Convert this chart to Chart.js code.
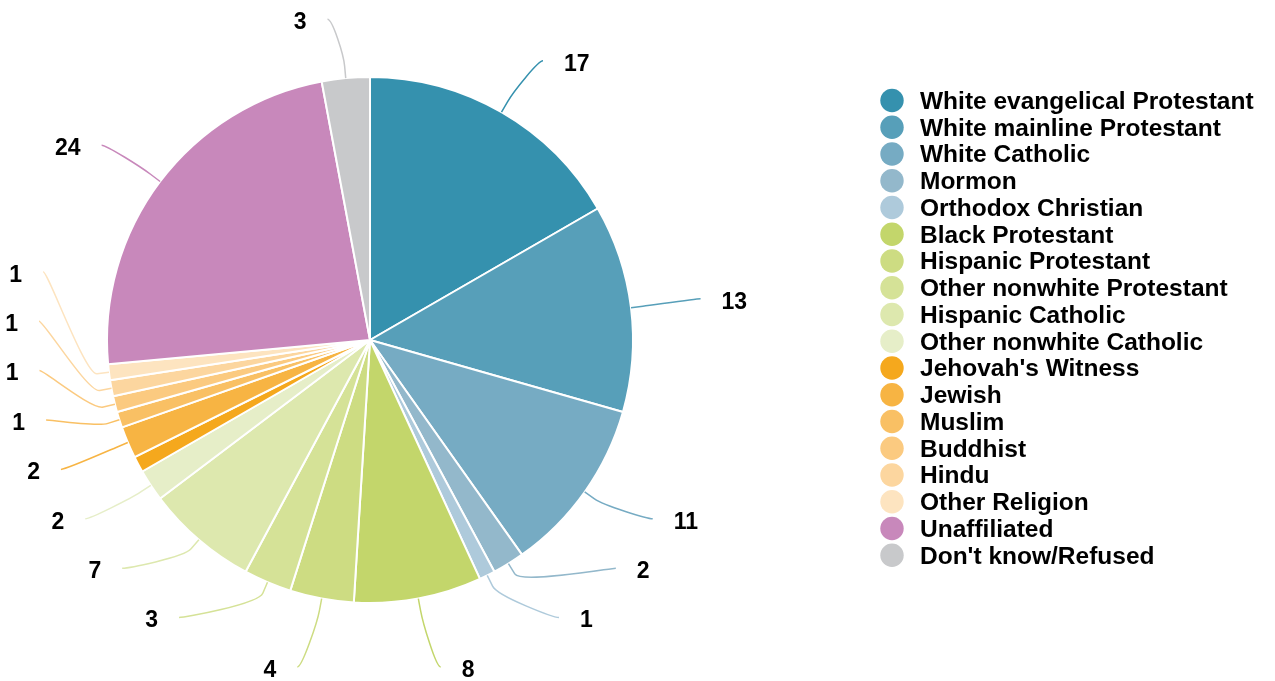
<!DOCTYPE html>
<html>
<head>
<meta charset="utf-8">
<title>Religious composition</title>
<script src="https://cdn.jsdelivr.net/npm/chart.js@4.4.1/dist/chart.umd.min.js"></script>
<style>
  html, body { margin: 0; padding: 0; background: #fff; }
  #wrap { position: relative; width: 1275px; height: 681px; }
</style>
</head>
<body>
<div id="wrap"><canvas id="religionPie"></canvas></div>
<script>
const categories = [
  'White evangelical Protestant', 'White mainline Protestant', 'White Catholic',
  'Mormon', 'Orthodox Christian', 'Black Protestant', 'Hispanic Protestant',
  'Other nonwhite Protestant', 'Hispanic Catholic', 'Other nonwhite Catholic',
  "Jehovah's Witness", 'Jewish', 'Muslim', 'Buddhist', 'Hindu', 'Other Religion',
  'Unaffiliated', "Don't know/Refused"
];
const values = [17, 13, 11, 2, 1, 8, 4, 3, 7, 2, 1, 2, 1, 1, 1, 1, 24, 3];
const colors = [
  '#3591ae', '#579fb9', '#76abc3', '#93b8cb', '#aecadb',
  '#c3d66b', '#cddc82', '#d5e297', '#dde8ae', '#e6eec8',
  '#f5a81d', '#f7b443', '#f9c064', '#fbca80', '#fcd69f', '#fde4c0',
  '#c888bb', '#c8c9cb'
];
// slices whose value label is left off
const unlabeled = ["Jehovah's Witness"];

const FONT = 'Arial, "Liberation Sans", sans-serif';

// value labels outside the pie, spread out per side, with curved connectors
const pieLabels = {
  id: 'pieLabels',
  afterDatasetsDraw(chart) {
    const ctx = chart.ctx;
    const arcs = chart.getDatasetMeta(0).data;
    const c = arcs[0].getProps(['x', 'y', 'outerRadius'], true);
    const cx = c.x, cy = c.y, r = c.outerRadius;
    const labelR = r + 57;
    const gap = 49.4, top = 20, bottom = chart.height - 12;
    const sides = { left: [], right: [] };

    arcs.forEach((arc, i) => {
      if (unlabeled.includes(categories[i])) return;
      const p = arc.getProps(['startAngle', 'endAngle'], true);
      const mid = (p.startAngle + p.endAngle) / 2;
      const item = { i, mid, ideal: cy + Math.sin(mid) * labelR, natX: cx + Math.cos(mid) * labelR };
      (Math.cos(mid) >= 0 ? sides.right : sides.left).push(item);
    });

    const spread = list => {
      list.sort((a, b) => a.ideal - b.ideal);
      list.forEach(l => { l.y = Math.min(Math.max(l.ideal, top), bottom); });
      for (let k = 1; k < list.length; k++) list[k].y = Math.max(list[k].y, list[k - 1].y + gap);
      for (let k = list.length - 1; k >= 0; k--) {
        const limit = k === list.length - 1 ? bottom : list[k + 1].y - gap;
        list[k].y = Math.max(Math.min(list[k].y, limit), top);
      }
    };

    ctx.save();
    ctx.font = `bold 23px ${FONT}`;
    ctx.textBaseline = 'middle';
    ['left', 'right'].forEach(side => {
      const list = sides[side];
      const sign = side === 'right' ? 1 : -1;
      spread(list);
      list.forEach(l => {
        let edgeX;
        if (Math.abs(l.y - l.ideal) < 0.5) {
          edgeX = l.natX + sign * 34;
        } else {
          const dy = Math.min(Math.max(Math.abs(l.y - cy) - 15, 0), labelR);
          edgeX = cx + sign * (Math.sqrt(labelR * labelR - dy * dy) + (side === 'left' ? 32 : 30));
        }
        const cos = Math.cos(l.mid), sin = Math.sin(l.mid);
        const touch = { x: cx + cos * r, y: cy + sin * r };
        const brk = { x: cx + cos * (r + 12), y: cy + sin * (r + 12) };
        const end = { x: edgeX - sign * 21, y: l.y - 2 };

        ctx.beginPath();
        ctx.moveTo(end.x, end.y);
        ctx.bezierCurveTo(end.x - sign * 5, end.y, 2 * brk.x - touch.x, 2 * brk.y - touch.y, brk.x, brk.y);
        ctx.lineTo(touch.x, touch.y);
        ctx.strokeStyle = colors[l.i];
        ctx.lineWidth = 1.5;
        ctx.stroke();

        ctx.fillStyle = '#000';
        ctx.textAlign = side === 'right' ? 'left' : 'right';
        ctx.fillText(String(values[l.i]), edgeX, l.y + 1.5);
      });
    });
    ctx.restore();
  }
};

// legend column on the right with round markers
const sideLegend = {
  id: 'sideLegend',
  afterDraw(chart) {
    const ctx = chart.ctx;
    const markerX = 892, textX = 920, firstY = 100.5, rowH = 26.75;
    ctx.save();
    ctx.font = `bold 24.5px ${FONT}`;
    ctx.textAlign = 'left';
    ctx.textBaseline = 'middle';
    categories.forEach((name, i) => {
      const y = firstY + i * rowH;
      ctx.beginPath();
      ctx.arc(markerX, y, 11.7, 0, Math.PI * 2);
      ctx.fillStyle = colors[i];
      ctx.fill();
      ctx.fillStyle = '#000';
      ctx.fillText(name, textX, y + 1.5);
    });
    ctx.restore();
  }
};

new Chart(document.getElementById('religionPie'), {
  type: 'pie',
  data: {
    labels: categories,
    datasets: [{
      data: values,
      backgroundColor: colors,
      borderColor: '#ffffff',
      borderWidth: 2
    }]
  },
  options: {
    responsive: true,
    maintainAspectRatio: false,
    animation: false,
    events: [],
    layout: { padding: { top: 76, bottom: 77, left: 106, right: 641 } },
    plugins: {
      legend: { display: false },
      tooltip: { enabled: false }
    }
  },
  plugins: [pieLabels, sideLegend]
});
</script>
</body>
</html>
